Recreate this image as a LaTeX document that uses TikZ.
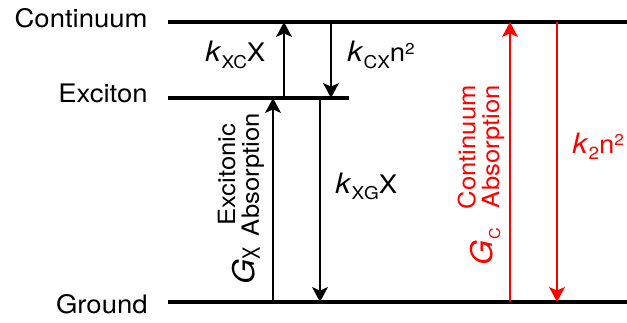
\documentclass[tikz,border=0pt]{standalone}
\usepackage{fontspec}
\setmainfont{TeX Gyre Heros}[FakeStretch=1.08]
\usetikzlibrary{arrows.meta}

% rate constant k with a lowered index, and a small square
\newcommand{\rate}[1]{{\fontsize{16}{16}\selectfont\textit{k}}\raisebox{-3.6pt}{\fontsize{10}{10}\selectfont #1}}
\newcommand{\sqr}{\raisebox{4pt}{\fontsize{9}{9}\selectfont 2}}

\begin{document}
\begin{tikzpicture}[x=0.02cm, y=0.02cm,
        level/.style={line width=1.8pt},
        trans/.style={line width=0.75pt, -{Stealth[length=8.5pt, width=9pt, inset=2pt]}},
        lbl/.style={font=\fontsize{14.5}{17}\selectfont, inner sep=0pt},
        rot/.style={font=\fontsize{13.5}{13.5}\selectfont, rotate=90, inner sep=0pt},
        ]
        \useasboundingbox (0,0) rectangle (627,322);

        % energy levels
        \node (cont) [lbl, anchor=base east] at (148,295) {Continuum};
        \node (exc)  [lbl, anchor=base east] at (148,219) {Exciton};
        \node (gnd)  [lbl, anchor=base east] at (148,9)   {Ground};

        \coordinate (c0) at (168,300); \coordinate (c1) at (627,300);
        \coordinate (e0) at (168,224); \coordinate (e1) at (349,224);
        \coordinate (g0) at (168,20);  \coordinate (g1) at (627,20);
        \draw[level] (c0) -- (c1) (e0) -- (e1) (g0) -- (g1);

        % transitions
        \coordinate (xcA) at (284,224); \coordinate (xcB) at (284,300);
        \coordinate (cxA) at (331,300); \coordinate (cxB) at (331,224);
        \coordinate (gxA) at (273,20);  \coordinate (gxB) at (273,224);
        \coordinate (xgA) at (320,224); \coordinate (xgB) at (320,20);
        \draw[trans] (xcA) -- (xcB);
        \draw[trans] (cxA) -- (cxB);
        \draw[trans] (gxA) -- (gxB);
        \draw[trans] (xgA) -- (xgB);

        \begin{scope}[red]
        \coordinate (gcA) at (510,20);  \coordinate (gcB) at (510,300);
        \coordinate (k2A) at (557,300); \coordinate (k2B) at (557,20);
        \draw[trans] (gcA) -- (gcB);
        \draw[trans] (k2A) -- (k2B);
        \end{scope}

        % rates
        \node (kxc) [lbl, anchor=base west] at (205,260) {\rate{XC}X};
        \node (kcx) [lbl, anchor=base west] at (347,260) {\rate{CX}n\sqr};
        \node (kxg) [lbl, anchor=base west] at (335,129) {\rate{XG}X};
        \node (k2)  [lbl, anchor=base west, red] at (572,169) {\rate{2}n\sqr};

        % absorption
        \node (absx) [rot, anchor=east, align=center] at (241,209) {Excitonic\\Absorption};
        \node (gx) [rot, anchor=base east] at (255,75)
            {{\fontsize{17}{17}\selectfont\textit{G}}\raisebox{-2.8pt}{\fontsize{13.5}{13.5}\selectfont\scalebox{0.72}[1]{X}}};
        \node (absc) [rot, red, anchor=east, align=right] at (481,237) {Continuum\\Absorption};
        \node (gc) [rot, red, anchor=base east] at (493,94)
            {{\fontsize{17}{17}\selectfont\textit{G}}\raisebox{-4pt}{\fontsize{8.5}{8.5}\selectfont C}};
\end{tikzpicture}
\end{document}
